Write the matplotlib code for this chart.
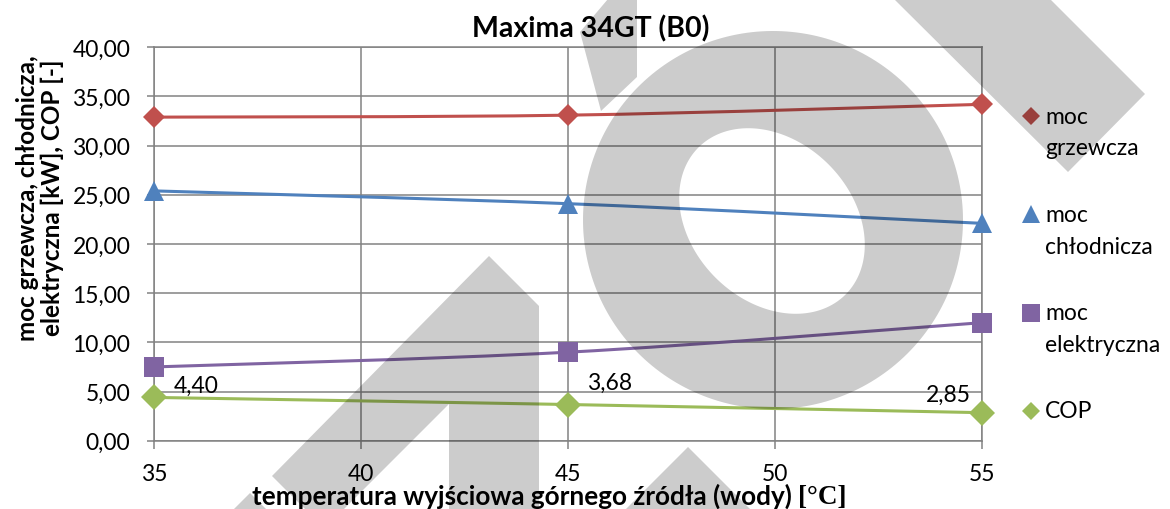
import numpy as np
import matplotlib
matplotlib.use('Agg')
import matplotlib.pyplot as plt
from matplotlib.path import Path
from matplotlib.patches import PathPatch, Polygon

plt.rcParams['font.family'] = ['Lato', 'DejaVu Sans']

# data
temps = [35, 45, 55]
moc_grzewcza = [32.9, 33.1, 34.2]
moc_chlodnicza = [25.4, 24.1, 22.1]
moc_elektryczna = [7.5, 9.0, 12.0]
cop = [4.40, 3.68, 2.85]

series_names = ['moc\ngrzewcza', 'moc\nchłodnicza', 'moc\nelektryczna', 'COP']
series_values = [moc_grzewcza, moc_chlodnicza, moc_elektryczna, cop]
colors = ['#C0504D', '#4F81BD', '#8064A2', '#9BBB59']
markers = ['D', '^', 's', 'D']
marker_sizes = [10.7, 14.4, 14.4, 13.7]
legend_marker_sizes = [9.0, 13.0, 13.0, 9.0]

cop_offsets = [(14, 9, 'left'), (14, 16, 'left'), (-8, 13, 'right')]

yticks = [0, 5, 10, 15, 20, 25, 30, 35, 40]
xticks = [35, 40, 45, 50, 55]

GRID = '#828282'
W, H = 1170, 510


def smooth_path(xs, ys):
    # Excel-like smoothed line through the points (cubic bezier segments)
    pts = list(zip(xs, ys))
    n = len(pts)
    verts = [pts[0]]
    codes = [Path.MOVETO]
    for i in range(n - 1):
        p0 = pts[i - 1] if i > 0 else pts[i]
        p1 = pts[i]
        p2 = pts[i + 1]
        p3 = pts[i + 2] if i + 2 < n else pts[i + 1]
        c1 = (p1[0] + (p2[0] - p0[0]) / 6, p1[1] + (p2[1] - p0[1]) / 6)
        c2 = (p2[0] - (p3[0] - p1[0]) / 6, p2[1] - (p3[1] - p1[1]) / 6)
        verts += [c1, c2, p2]
        codes += [Path.CURVE4] * 3
    return Path(verts, codes)


fig = plt.figure(figsize=(W / 100, H / 100), dpi=100)
ax = fig.add_axes([154 / W, 1 - 441.7 / H, (981.7 - 154) / W, (441.7 - 48.3) / H])

for vals, col, mk, ms in zip(series_values, colors, markers, marker_sizes):
    ax.add_patch(PathPatch(smooth_path(temps, vals), fill=False, edgecolor=col,
                           lw=2.2, zorder=3, capstyle='round'))
    ax.plot(temps, vals, linestyle='none', marker=mk, markersize=ms,
            color=col, markeredgewidth=0, zorder=4, clip_on=False)

for t, v, (dx, dy, ha) in zip(temps, cop, cop_offsets):
    ax.annotate(f'{v:.2f}'.replace('.', ','), (t, v), xytext=(dx, dy),
                textcoords='offset points', ha=ha, va='center', fontsize=16.5,
                color='black', zorder=5)

ax.set_xlim(35, 55)
ax.set_ylim(0, 40)
ax.set_xticks(xticks)
ax.set_yticks(yticks)
ax.set_yticklabels([f'{v:.2f}'.replace('.', ',') for v in yticks])
ax.grid(True, color=GRID, lw=1.1, zorder=1)
ax.set_axisbelow(True)
for s in ax.spines.values():
    s.set_color(GRID)
    s.set_linewidth(1.1)
ax.tick_params(axis='y', direction='out', length=5, width=1.1, color=GRID,
               pad=12, labelsize=16.5)
ax.tick_params(axis='x', direction='out', length=6, width=1.1, color=GRID,
               pad=10, labelsize=16.5)

fig.text(591 / W, 1 - 37 / H, 'Maxima 34GT (B0)', ha='center', va='baseline',
         fontsize=20.5, fontweight='bold')
fig.text(40 / W, 1 - 198 / H, 'moc grzewcza, chłodnicza,\nelektryczna [kW], COP [-]',
         rotation=90, ha='center', va='center', fontsize=17.5, fontweight='bold',
         linespacing=1.05)

# x axis title, degree sign part in a serif face like the original
t1 = fig.text(252 / W, 1 - 505 / H, 'temperatura wyjściowa górnego źródła (wody) ',
              ha='left', va='baseline', fontsize=18.8, fontweight='bold')
fig.canvas.draw()
bb = t1.get_window_extent()
fig.text(bb.x1 / W, 1 - 504 / H, '[°C]', ha='left', va='baseline', fontsize=19.5,
         fontweight='bold', family='Liberation Serif')

# legend drawn by hand: marker and two-line label like Excel
lax = fig.add_axes([1015 / W, 0, 155 / W, 1])
lax.set_xlim(0, 155)
lax.set_ylim(H, 0)
lax.axis('off')
for i, (name, col, mk, ms) in enumerate(zip(series_names, colors, markers, legend_marker_sizes)):
    y0 = 117 + i * 98.3
    lax.plot([16], [y0], linestyle='none', marker=mk, markersize=ms, color=col,
             markeredgewidth=0)
    for k, line in enumerate(name.split('\n')):
        lax.text(30, y0 + k * 32, line, ha='left', va='center', fontsize=16.5)

# grey watermark drawn over the chart
wax = fig.add_axes([0, 0, 1, 1], zorder=10)
wax.set_xlim(0, W)
wax.set_ylim(H, 0)
wax.axis('off')
wax.patch.set_alpha(0)
shade = dict(facecolor='black', alpha=0.2, edgecolor='none')

tt = np.linspace(0, 2 * np.pi, 240)
outer = np.column_stack([773 + 190 * np.cos(tt), 221 + 189 * np.sin(tt)])
ang = np.deg2rad(45)
ix = 104 * np.cos(tt)
iy = 80 * np.sin(tt)
inner = np.column_stack([772 + ix * np.cos(ang) - iy * np.sin(ang),
                         222 + ix * np.sin(ang) + iy * np.cos(ang)])[::-1]
ring = Path.make_compound_path(Path(outer, closed=False), Path(inner, closed=False))
wax.add_patch(PathPatch(ring, **shade))

for poly in [
    [(894, 0), (1050, 0), (1145, 95), (1068, 173)],
    [(608, 0), (637, 0), (637, 78), (601, 112), (580, 33)],
    [(489, 257), (539, 307), (539, 510), (449, 510), (449, 405), (344, 510),
     (305, 510), (272, 477)],
    [(250, 494), (266, 510), (234, 510)],
    [(688, 448), (750, 510), (626, 510)],
]:
    wax.add_patch(Polygon(poly, closed=True, **shade))

fig.savefig('out.png', dpi=100)
